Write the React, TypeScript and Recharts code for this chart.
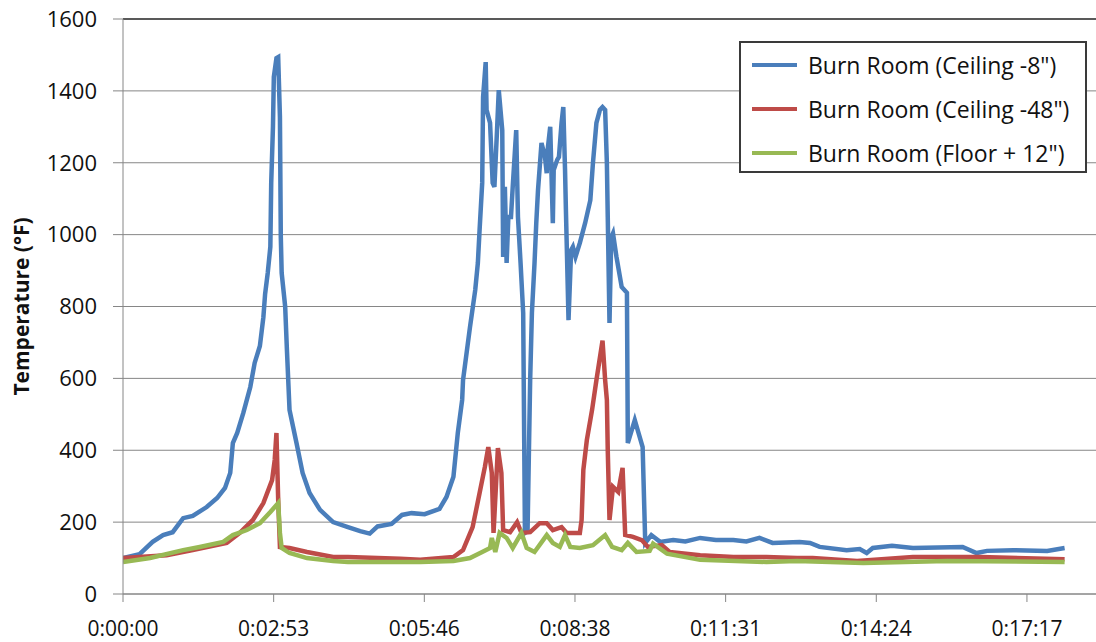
import {
  LineChart,
  CartesianGrid,
  XAxis,
  YAxis,
  Legend,
  Line,
  ReferenceLine,
} from "recharts";

// time in seconds, temperature in °F
const ceiling8: [number, number][] = [
  [0, 100], [19, 111], [34, 145], [46, 164], [57, 172], [69, 211], [80, 217],
  [96, 242], [108, 267], [117, 295], [123, 337], [126, 420], [131, 448],
  [138, 504], [146, 576], [151, 643], [157, 690], [161, 770], [163, 835],
  [166, 893], [169, 966], [170, 1144], [172, 1300], [173, 1439], [176, 1491],
  [178, 1494], [180, 1327], [181, 993], [182, 893], [186, 800], [188, 680],
  [191, 512], [199, 420], [206, 337], [214, 281], [226, 234], [241, 200],
  [258, 186], [272, 175], [283, 168], [292, 188], [308, 195], [320, 220],
  [331, 225], [346, 222], [363, 237], [371, 270], [379, 326], [384, 448],
  [389, 540], [390, 595], [398, 743], [404, 846], [407, 921], [409, 1013],
  [412, 1144], [413, 1383], [416, 1480], [417, 1347], [421, 1311], [424, 1144],
  [426, 1133], [429, 1291], [431, 1402], [435, 1291], [436, 938], [438, 1133],
  [440, 921], [442, 1049], [445, 1049], [447, 1133], [451, 1291], [453, 1049],
  [456, 921], [459, 782], [461, 170], [464, 175], [467, 595], [469, 782],
  [472, 921], [474, 1032], [476, 1124], [480, 1255], [484, 1216], [486, 1171],
  [487, 1235], [490, 1300], [493, 1032], [494, 1180], [498, 1208], [500, 1216],
  [503, 1311], [505, 1355], [507, 1180], [508, 1069], [511, 762], [514, 957],
  [516, 966], [519, 938], [524, 977], [530, 1032], [536, 1096], [539, 1199],
  [543, 1311], [547, 1347], [550, 1355], [553, 1347], [555, 1199], [556, 1049],
  [558, 754], [560, 993], [562, 1004], [566, 938], [572, 854], [578, 838],
  [579, 420], [587, 484], [596, 409], [599, 142], [606, 164], [616, 145],
  [631, 150], [645, 146], [662, 156], [680, 150], [700, 150], [715, 146],
  [730, 156], [745, 142], [776, 145], [788, 142], [799, 131], [830, 122],
  [845, 125], [853, 114], [860, 128], [882, 134], [906, 128], [963, 131],
  [979, 114], [991, 120], [1021, 122], [1060, 120], [1080, 128],
];

const ceiling48: [number, number][] = [
  [0, 100], [50, 108], [80, 122], [119, 142], [134, 170], [149, 206],
  [161, 253], [171, 317], [174, 373], [176, 448], [178, 262], [180, 131],
  [191, 128], [211, 117], [241, 103], [258, 103], [318, 98], [341, 95],
  [379, 103], [390, 122], [401, 186], [409, 281], [415, 353], [419, 409],
  [423, 337], [425, 170], [430, 406], [434, 337], [436, 178], [444, 172],
  [452, 200], [457, 170], [467, 172], [478, 197], [486, 197], [493, 178],
  [503, 186], [509, 170], [524, 170], [526, 206], [528, 345], [532, 428],
  [538, 512], [543, 595], [550, 705], [553, 595], [555, 540], [556, 400],
  [558, 206], [562, 298], [568, 284], [573, 351], [576, 164], [585, 159],
  [595, 150], [602, 131], [618, 136], [627, 117], [662, 108], [700, 103],
  [738, 103], [773, 100], [791, 100], [842, 92], [906, 103], [983, 103],
  [1080, 97],
];

const floor12: [number, number][] = [
  [0, 89], [31, 100], [69, 122], [88, 131], [115, 145], [126, 164], [142, 178],
  [157, 197], [169, 228], [178, 253], [180, 170], [182, 128], [191, 114],
  [211, 100], [241, 92], [258, 89], [341, 89], [379, 92], [398, 100],
  [412, 117], [421, 128], [423, 156], [427, 117], [432, 170], [440, 156],
  [447, 128], [457, 170], [463, 128], [472, 117], [486, 164], [493, 142],
  [501, 131], [507, 164], [513, 131], [524, 128], [539, 136], [553, 164],
  [561, 131], [572, 122], [579, 142], [589, 117], [604, 120], [608, 140],
  [624, 112], [662, 95], [738, 89], [773, 92], [849, 86], [945, 92],
  [1080, 89],
];

const seriesNames = [
  'Burn Room (Ceiling -8")',
  'Burn Room (Ceiling -48")',
  'Burn Room (Floor + 12")',
];

const xTicks = [0, 172.8, 345.6, 518.4, 691.2, 864, 1036.8];
const yTicks = [0, 200, 400, 600, 800, 1000, 1200, 1400, 1600];

const toRows = (pts: [number, number][]) => pts.map(([t, v]) => ({ t, v }));

const fmtTime = (s: number) => {
  const total = Math.round(s);
  const h = Math.floor(total / 3600);
  const m = Math.floor((total % 3600) / 60);
  const sec = total % 60;
  return `${h}:${String(m).padStart(2, "0")}:${String(sec).padStart(2, "0")}`;
};

const FONT = "'Open Sans', sans-serif";

const YTitle = (props: any) => {
  const vb = props.viewBox;
  const cx = 21;
  const cy = vb.y + vb.height / 2;
  return (
    <text
      x={cx}
      y={cy}
      transform={`rotate(-90 ${cx} ${cy})`}
      textAnchor="middle"
      dominantBaseline="central"
      fontFamily={FONT}
      fontWeight="bold"
      fontSize={21}
      fill="#111"
    >
      Temperature (°F)
    </text>
  );
};

const LegendBox = (props: any) => {
  const items = [...(props.payload || [])].sort(
    (a: any, b: any) => seriesNames.indexOf(a.value) - seriesNames.indexOf(b.value)
  );
  return (
    <div
      style={{
        width: 348,
        height: 132,
        boxSizing: "border-box",
        border: "2px solid #3a3a3a",
        background: "#fff",
        fontFamily: FONT,
        fontSize: 23,
        color: "#111",
      }}
    >
      {items.map((it: any) => (
        <div
          key={it.value}
          style={{ height: 44, display: "flex", alignItems: "center" }}
        >
          <div
            style={{
              marginLeft: 11,
              width: 45,
              height: 4,
              background: it.color,
            }}
          />
          <span style={{ marginLeft: 11, whiteSpace: "nowrap" }}>
            {it.value}
          </span>
        </div>
      ))}
    </div>
  );
};

const App: React.FC = () => {
  return (
    <div style={{ position: "absolute", left: 0, top: 0 }}>
      <LineChart
        width={1096}
        height={642}
        margin={{ top: 19, right: 0, left: 0, bottom: 0 }}
      >
        <CartesianGrid vertical={false} stroke="#868686" />
        <XAxis
          type="number"
          dataKey="t"
          domain={[0, 1116]}
          ticks={xTicks}
          tickFormatter={fmtTime}
          allowDataOverflow
          height={48}
          stroke="#868686"
          tickSize={8}
          tickMargin={19}
          tick={{ fontFamily: FONT, fontSize: 21, fill: "#111" }}
        />
        <YAxis
          type="number"
          domain={[0, 1600]}
          ticks={yTicks}
          width={123}
          stroke="#868686"
          tickSize={10}
          tickMargin={16}
          tick={{ fontFamily: FONT, fontSize: 22, fill: "#111" }}
          label={<YTitle />}
        />
        <ReferenceLine y={1600} stroke="#595959" strokeWidth={2} />
        <Legend
          layout="vertical"
          align="center"
          verticalAlign="middle"
          content={<LegendBox />}
          wrapperStyle={{ left: 739, top: 41, width: 348, height: 132 }}
        />
        <Line
          data={toRows(ceiling8)}
          dataKey="v"
          name={seriesNames[0]}
          type="linear"
          stroke="#4A7EBB"
          strokeWidth={4.5}
          dot={false}
          isAnimationActive={false}
        />
        <Line
          data={toRows(ceiling48)}
          dataKey="v"
          name={seriesNames[1]}
          type="linear"
          stroke="#BE4B48"
          strokeWidth={4.5}
          dot={false}
          isAnimationActive={false}
        />
        <Line
          data={toRows(floor12)}
          dataKey="v"
          name={seriesNames[2]}
          type="linear"
          stroke="#98B954"
          strokeWidth={4.5}
          dot={false}
          isAnimationActive={false}
        />
      </LineChart>
    </div>
  );
};

export default App;
